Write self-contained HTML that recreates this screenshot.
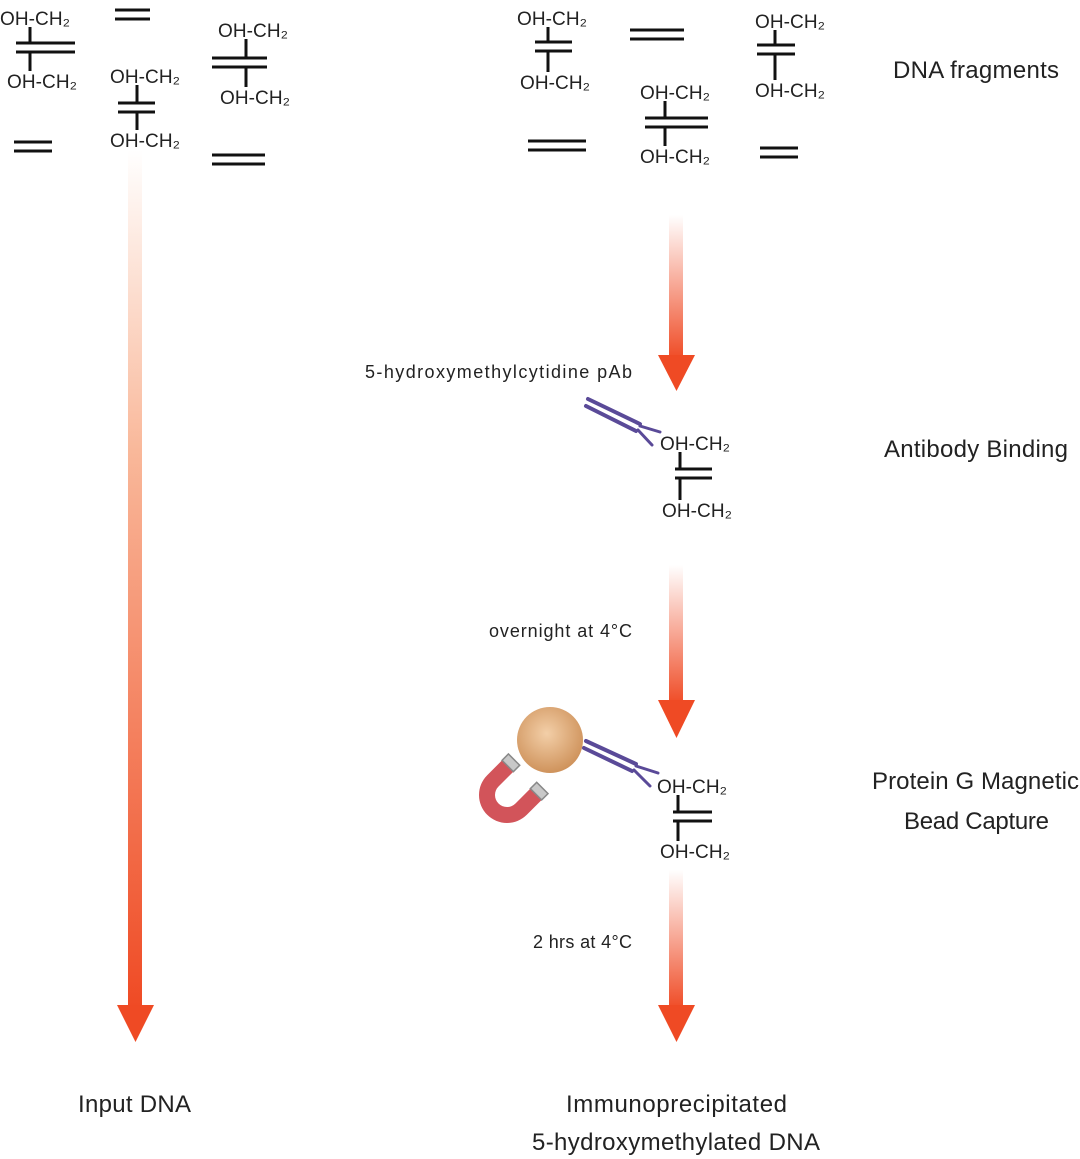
<!DOCTYPE html>
<html><head><meta charset="utf-8">
<style>
html,body{margin:0;padding:0;background:#fff;width:1080px;height:1159px;overflow:hidden}
svg{display:block}
text{font-family:"Liberation Sans",sans-serif;fill:#222}
.lbl{font-size:24px}
.sm{font-size:18px}
.oh{font-size:19px}
</style></head>
<body>
<svg id="s" width="1080" height="1159" viewBox="0 0 1080 1159">
<defs>
<linearGradient id="gL" x1="0" y1="0" x2="0" y2="1">
<stop offset="0" stop-color="#fff"/><stop offset="0.35" stop-color="#f9b89a"/><stop offset="1" stop-color="#ef4a24"/>
</linearGradient>
<linearGradient id="gR" x1="0" y1="0" x2="0" y2="1">
<stop offset="0" stop-color="#fff"/><stop offset="1" stop-color="#ef4a24"/>
</linearGradient>
<radialGradient id="bead" cx="0.45" cy="0.4" r="0.6">
<stop offset="0" stop-color="#f3cfa8"/><stop offset="1" stop-color="#cf935c"/>
</radialGradient>
</defs>

<g>
<rect x="128" y="150" width="14" height="860" fill="url(#gL)"/>
<polygon points="117,1005 154,1005 135.5,1042" fill="#ef4a24"/>
</g>
<g>
<rect x="669" y="215" width="14" height="145" fill="url(#gR)"/>
<polygon points="658,355 695,355 676.5,391" fill="#ef4a24"/>
</g>
<g>
<rect x="669" y="565" width="14" height="140" fill="url(#gR)"/>
<polygon points="658,700 695,700 676.5,738" fill="#ef4a24"/>
</g>
<g>
<rect x="669" y="870" width="14" height="140" fill="url(#gR)"/>
<polygon points="658,1005 695,1005 676.5,1042" fill="#ef4a24"/>
</g>

<g id="frags"></g>

<g stroke="#5a4a98" stroke-linecap="round" fill="none">
<line x1="588" y1="399" x2="640" y2="424" stroke-width="4"/>
<line x1="586" y1="406" x2="636" y2="431" stroke-width="4"/>
<line x1="640" y1="426" x2="660" y2="432" stroke-width="3"/>
<line x1="638" y1="430" x2="652" y2="445" stroke-width="3"/>
</g>
<circle cx="550" cy="740" r="33" fill="url(#bead)"/>
<g stroke="#5a4a98" stroke-linecap="round" fill="none">
<line x1="586" y1="741" x2="636" y2="764" stroke-width="4"/>
<line x1="584" y1="748" x2="632" y2="771" stroke-width="4"/>
<line x1="636" y1="766" x2="658" y2="773" stroke-width="3"/>
<line x1="634" y1="770" x2="650" y2="786" stroke-width="3"/>
</g>
<g transform="translate(507 795) rotate(45)">
<path d="M-28,-22 L-28,0 A28,28 0 0 0 28,0 L28,-22 L12,-22 L12,0 A12,12 0 0 1 -12,0 L-12,-22 Z" fill="#d2545a"/>
<rect x="-28" y="-30" width="16" height="9" fill="#c8c8c8" stroke="#888" stroke-width="1.5"/>
<rect x="12" y="-30" width="16" height="9" fill="#c8c8c8" stroke="#888" stroke-width="1.5"/>
</g>

<text class="lbl" x="893" y="78" textLength="166">DNA fragments</text>
<text class="lbl" x="884" y="457" textLength="184">Antibody Binding</text>
<text class="lbl" x="872" y="789" textLength="207">Protein G Magnetic</text>
<text class="lbl" x="904" y="829" textLength="145">Bead Capture</text>
<text class="lbl" x="78" y="1112" textLength="113">Input DNA</text>
<text class="lbl" x="566" y="1112" textLength="221">Immunoprecipitated</text>
<text class="lbl" x="532" y="1150" textLength="288">5-hydroxymethylated DNA</text>
<text class="sm" x="365" y="378" textLength="267">5-hydroxymethylcytidine pAb</text>
<text class="sm" x="489" y="637" textLength="143">overnight at 4°C</text>
<text class="sm" x="533" y="948" textLength="99">2 hrs at 4°C</text>
</svg>
<script>
var NS="http://www.w3.org/2000/svg";
var g=document.getElementById('frags');
function line(x1,y1,x2,y2){
  var l=document.createElementNS(NS,'line');
  l.setAttribute('x1',x1);l.setAttribute('y1',y1);l.setAttribute('x2',x2);l.setAttribute('y2',y2);
  l.setAttribute('stroke','#111');l.setAttribute('stroke-width','3');
  
  
  g.appendChild(l);
}
function dbl(x1,x2,y){line(x1,y,x2,y);line(x1,y+9,x2,y+9);}
function oh(x,y){
  var t=document.createElementNS(NS,'text');
  t.setAttribute('x',x);t.setAttribute('y',y);t.setAttribute('class','oh');
  t.setAttribute('textLength','70');
  t.textContent='OH-CH\u2082';
  
  
  g.appendChild(t);
}
function frag(tx,ty,lx1,lx2,ly,tick,bx,by){
  oh(tx,ty);
  line(tick,ty+2,tick,ly);
  dbl(lx1,lx2,ly);
  line(tick,ly+9,tick,by-17);
  oh(bx,by);
}
frag(0,25,16,75,43,30,7,88);
frag(110,83,118,155,103,137,110,147);
frag(218,37,212,267,58,246,220,104);
dbl(115,150,10);dbl(14,52,142);dbl(212,265,155);
frag(517,25,535,572,42,548,520,89);
frag(755,28,757,795,45,775,755,97);
frag(640,99,645,708,118,665,640,163);
dbl(630,684,30);dbl(528,586,141);dbl(760,798,148);
frag(660,450,675,712,469,680,662,517);
frag(657,793,673,712,812,678,660,858);
</script>
</body></html>
